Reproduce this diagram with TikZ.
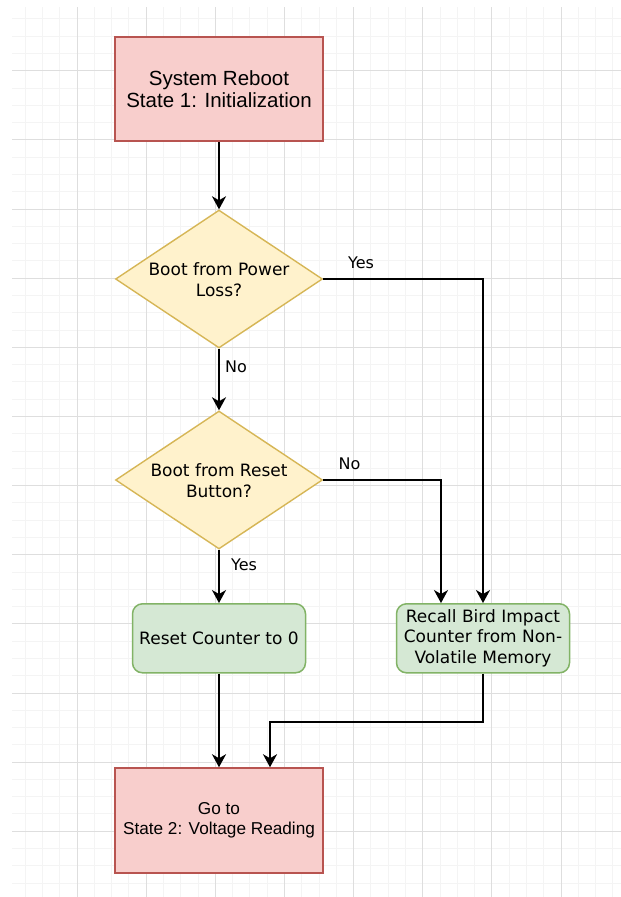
\documentclass[tikz,border=0pt]{standalone}
\usepackage{fontspec}
\setmainfont{Liberation Sans}
\newfontfamily\dvs{DejaVu Sans}
\usetikzlibrary{shapes.geometric,arrows.meta}
\definecolor{redfill}{HTML}{F8CECC}
\definecolor{redline}{HTML}{B85450}
\definecolor{yelfill}{HTML}{FFF2CC}
\definecolor{yelline}{HTML}{D6B656}
\definecolor{grnfill}{HTML}{D5E8D4}
\definecolor{grnline}{HTML}{82B366}
\definecolor{minorg}{HTML}{F4F4F4}
\definecolor{majorg}{HTML}{DEDEDE}
\tikzset{
  minorgrid/.style={draw=minorg, line width=1pt},
  majorgrid/.style={draw=majorg, line width=1.3pt},
  redbox/.style={draw=redline, fill=redfill, line width=1.5pt, rectangle, inner sep=0pt, align=center},
  grnbox/.style={draw=grnline, fill=grnfill, line width=1.5pt, rectangle, rounded corners=10pt, inner sep=0pt, align=center,
     minimum width=173pt, minimum height=69pt, font=\dvs\fontsize{17}{20.8}\selectfont},
  decision/.style={draw=yelline, fill=yelfill, line width=1.4pt, diamond, inner sep=0pt, minimum width=207pt, minimum height=138pt},
  dtext/.style={align=center, inner sep=0pt, font=\dvs\fontsize{17}{20.7}\selectfont},
  lbl/.style={inner sep=0pt, font=\dvs\fontsize{16}{19}\selectfont},
  arr/.style={draw=black, line width=2pt, -{Stealth[length=13pt, width=14pt, inset=4pt]}},
}
\begin{document}
\begin{tikzpicture}[x=1pt, y=-1pt]
\useasboundingbox (0,0) rectangle (621,897);
\fill[white] (0,0) rectangle (621,897);
\begin{scope}
  \clip (12,7) rectangle (621,897);
  \foreach \k in {0,...,36} { \pgfmathsetmacro{\gx}{int(7.9+17.285*\k)+0.5} \draw[minorgrid] (\gx,7) -- (\gx,897); }
  \foreach \k in {0,...,52} { \pgfmathsetmacro{\gy}{int(1.6+17.285*\k)+0.5} \draw[minorgrid] (12,\gy) -- (621,\gy); }
  \foreach \k in {0,...,9} { \pgfmathsetmacro{\gx}{int(7.9+69.14*\k)+0.5} \draw[majorgrid] (\gx,7) -- (\gx,897); }
  \foreach \k in {0,...,13} { \pgfmathsetmacro{\gy}{int(1.6+69.14*\k)+0.5} \draw[majorgrid] (12,\gy) -- (621,\gy); }
\end{scope}

\node[redbox, minimum width=208pt, minimum height=104pt, font=\fontsize{20.5}{21.5}\selectfont] (start) at (219,89) {System Reboot\\State 1: Initialization};
\node[decision] (d1) at (219,279) {};
\node[dtext] (d1t) at (219,280) {Boot from Power\\Loss?};
\node[decision] (d2) at (219,480) {};
\node[dtext] (d2t) at (219,481) {Boot from Reset\\Button?};
\node[grnbox] (reset) at (219,638.3) {Reset Counter to 0};
\node[grnbox] (recall) at (483,638.3) {Recall Bird Impact\\Counter from Non-\\Volatile Memory};
\node[redbox, minimum width=208pt, minimum height=105pt, font=\fontsize{17.2}{20}\selectfont] (finish) at (219,820.5) {Go to\\State 2: Voltage Reading};

\draw[arr] (start.south) -- (d1.north);
\draw[arr] (d1.east) -| (recall.north);
\node[lbl] (yes1) at (361,263) {Yes};
\draw[arr] (d1.south) -- (d2.north);
\node[lbl] (no1) at (236,366.5) {No};
\draw[arr] (d2.east) -| ([xshift=-42pt]recall.north);
\node[lbl] (no2) at (349.5,464) {No};
\draw[arr] (d2.south) -- (reset.north);
\node[lbl] (yes2) at (244,565) {Yes};
\draw[arr] (reset.south) -- (finish.north);
\draw[arr] (recall.south) -- ++(0,48.2) -| ([xshift=51pt]finish.north);
\end{tikzpicture}
\end{document}
